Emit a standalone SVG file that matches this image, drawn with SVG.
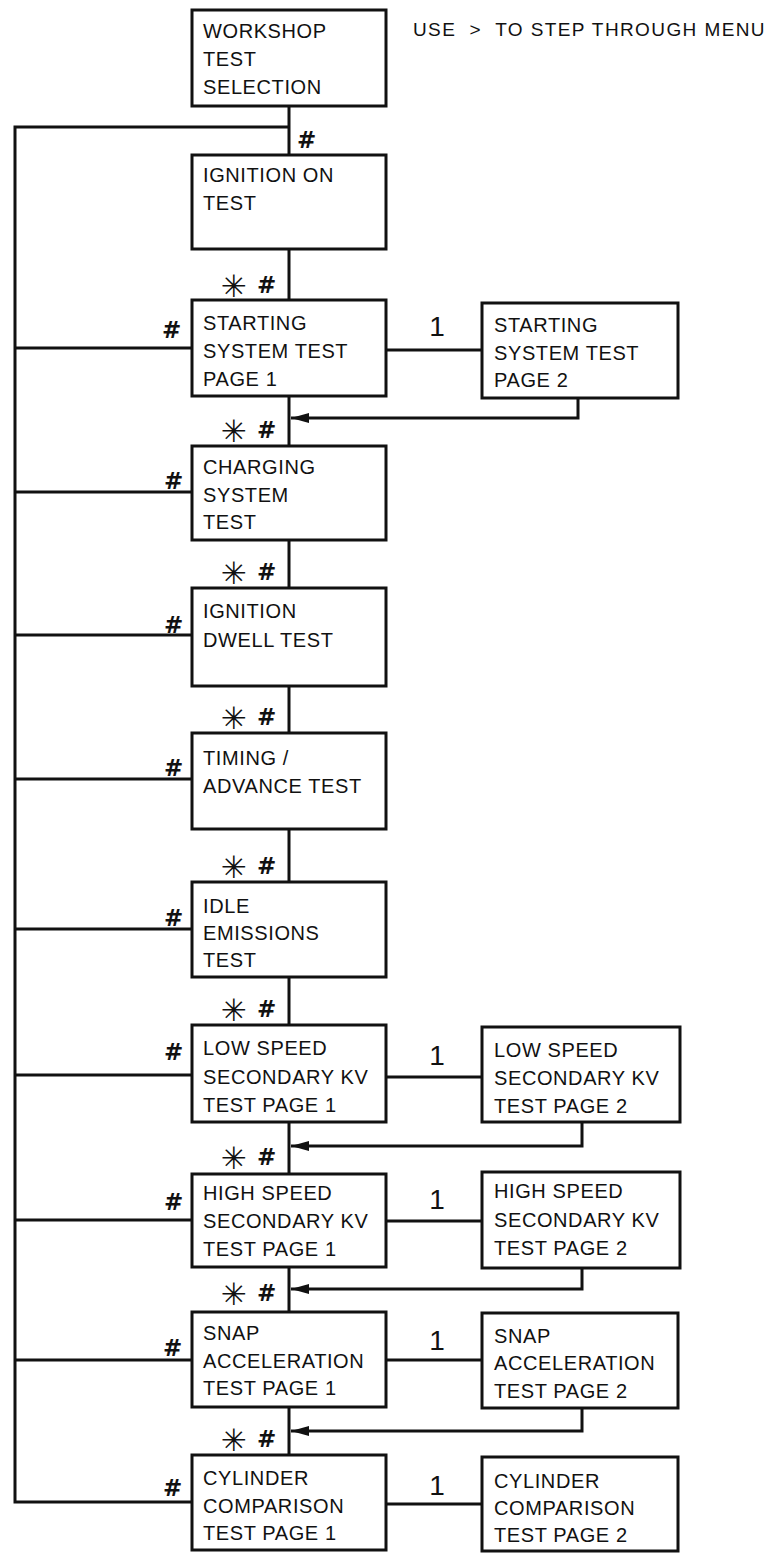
<svg xmlns="http://www.w3.org/2000/svg" width="773" height="1553" viewBox="0 0 773 1553">
<style>
.box{fill:#fff;stroke:#111;stroke-width:3}
.ln{fill:none;stroke:#111;stroke-width:3}
.t{font-family:"Liberation Sans",Arial,sans-serif;font-size:20px;letter-spacing:0.6px;fill:#111}
.h{font-family:"DejaVu Sans",sans-serif;font-weight:bold;font-size:23px;fill:#111}
.a{font-family:"DejaVu Sans",sans-serif;font-size:31px;fill:#111}
.one{font-family:"Liberation Sans",Arial,sans-serif;font-size:28px;fill:#111;text-anchor:middle}
</style>
<defs>
<marker id="arr" markerUnits="userSpaceOnUse" markerWidth="20" markerHeight="12" refX="18" refY="5" orient="auto">
<path d="M0,0 L18,5 L0,10 z" fill="#111"/>
</marker>
</defs>
<rect width="773" height="1553" fill="#fff"/>
<text class="t" x="413" y="36" xml:space="preserve" style="font-size:19px;letter-spacing:1.4px">USE  &gt;  TO STEP THROUGH MENU</text>
<g id="connectors">
<path class="ln" d="M289,106 V155 M289,249 V300 M289,396 V446 M289,540 V588 M289,686 V733 M289,829 V882 M289,977 V1025 M289,1122 V1174 M289,1267 V1312 M289,1407 V1455"/>
<path class="ln" d="M289,127 H15 V1502 H192 M15,348 H192 M15,492 H192 M15,635 H192 M15,779 H192 M15,929 H192 M15,1075 H192 M15,1220 H192 M15,1360 H192"/>
<path class="ln" d="M386,350 H482 M386,1077 H482 M386,1221 H482 M386,1360 H482 M386,1504 H482"/>
<path class="ln" d="M578,398 V418 H291" marker-end="url(#arr)"/>
<path class="ln" d="M582,1122 V1146 H291" marker-end="url(#arr)"/>
<path class="ln" d="M582,1268 V1289 H291" marker-end="url(#arr)"/>
<path class="ln" d="M582,1408 V1431 H291" marker-end="url(#arr)"/>
<text class="h" x="297" y="148">#</text>
<g id="labels-left">
<text class="h" x="162" y="338">#</text>
<text class="h" x="164" y="489">#</text>
<text class="h" x="164" y="633">#</text>
<text class="h" x="164" y="776">#</text>
<text class="h" x="164" y="926">#</text>
<text class="h" x="164" y="1060">#</text>
<text class="h" x="164" y="1210">#</text>
<text class="h" x="163" y="1356">#</text>
<text class="h" x="163" y="1496">#</text>
</g>
<g id="labels-step">
<text class="a" x="221" y="297">✳&#xFE0E;</text><text class="h" x="257" y="293">#</text>
<text class="a" x="221" y="442">✳&#xFE0E;</text><text class="h" x="257" y="438">#</text>
<text class="a" x="221" y="584">✳&#xFE0E;</text><text class="h" x="257" y="580">#</text>
<text class="a" x="221" y="729">✳&#xFE0E;</text><text class="h" x="257" y="725">#</text>
<text class="a" x="221" y="878">✳&#xFE0E;</text><text class="h" x="257" y="874">#</text>
<text class="a" x="221" y="1021">✳&#xFE0E;</text><text class="h" x="257" y="1017">#</text>
<text class="a" x="221" y="1169">✳&#xFE0E;</text><text class="h" x="257" y="1165">#</text>
<text class="a" x="221" y="1305">✳&#xFE0E;</text><text class="h" x="257" y="1301">#</text>
<text class="a" x="221" y="1451">✳&#xFE0E;</text><text class="h" x="257" y="1447">#</text>
</g>
<g id="labels-one">
<text class="one" x="437" y="336">1</text>
<text class="one" x="437" y="1065">1</text>
<text class="one" x="437" y="1209">1</text>
<text class="one" x="437" y="1350">1</text>
<text class="one" x="437" y="1495">1</text>
</g>
</g>
<g id="workshop"><rect class="box" x="192" y="10" width="194" height="96"/><text class="t" x="203" y="38">WORKSHOP</text><text class="t" x="203" y="66">TEST</text><text class="t" x="203" y="94">SELECTION</text></g>
<g id="ignition-on"><rect class="box" x="192" y="155" width="194" height="94"/><text class="t" x="203" y="182">IGNITION ON</text><text class="t" x="203" y="210">TEST</text></g>
<g id="starting-1"><rect class="box" x="192" y="300" width="194" height="96"/><text class="t" x="203" y="330">STARTING</text><text class="t" x="203" y="358">SYSTEM TEST</text><text class="t" x="203" y="386">PAGE 1</text></g>
<g id="starting-2"><rect class="box" x="482" y="303" width="196" height="95"/><text class="t" x="494" y="332">STARTING</text><text class="t" x="494" y="360">SYSTEM TEST</text><text class="t" x="494" y="387">PAGE 2</text></g>
<g id="charging"><rect class="box" x="192" y="446" width="194" height="94"/><text class="t" x="203" y="474">CHARGING</text><text class="t" x="203" y="502">SYSTEM</text><text class="t" x="203" y="529">TEST</text></g>
<g id="dwell"><rect class="box" x="192" y="588" width="194" height="98"/><text class="t" x="203" y="618">IGNITION</text><text class="t" x="203" y="647">DWELL TEST</text></g>
<g id="timing"><rect class="box" x="192" y="733" width="194" height="96"/><text class="t" x="203" y="765">TIMING /</text><text class="t" x="203" y="793">ADVANCE TEST</text></g>
<g id="idle"><rect class="box" x="192" y="882" width="194" height="95"/><text class="t" x="203" y="913">IDLE</text><text class="t" x="203" y="940">EMISSIONS</text><text class="t" x="203" y="967">TEST</text></g>
<g id="low-1"><rect class="box" x="192" y="1025" width="194" height="97"/><text class="t" x="203" y="1055">LOW SPEED</text><text class="t" x="203" y="1084">SECONDARY KV</text><text class="t" x="203" y="1112">TEST PAGE 1</text></g>
<g id="low-2"><rect class="box" x="482" y="1027" width="198" height="95"/><text class="t" x="494" y="1057">LOW SPEED</text><text class="t" x="494" y="1085">SECONDARY KV</text><text class="t" x="494" y="1113">TEST PAGE 2</text></g>
<g id="high-1"><rect class="box" x="192" y="1174" width="194" height="93"/><text class="t" x="203" y="1200">HIGH SPEED</text><text class="t" x="203" y="1228">SECONDARY KV</text><text class="t" x="203" y="1256">TEST PAGE 1</text></g>
<g id="high-2"><rect class="box" x="482" y="1172" width="198" height="96"/><text class="t" x="494" y="1198">HIGH SPEED</text><text class="t" x="494" y="1227">SECONDARY KV</text><text class="t" x="494" y="1255">TEST PAGE 2</text></g>
<g id="snap-1"><rect class="box" x="192" y="1312" width="194" height="95"/><text class="t" x="203" y="1340">SNAP</text><text class="t" x="203" y="1368">ACCELERATION</text><text class="t" x="203" y="1395">TEST PAGE 1</text></g>
<g id="snap-2"><rect class="box" x="482" y="1313" width="196" height="95"/><text class="t" x="494" y="1343">SNAP</text><text class="t" x="494" y="1370">ACCELERATION</text><text class="t" x="494" y="1398">TEST PAGE 2</text></g>
<g id="cyl-1"><rect class="box" x="192" y="1455" width="194" height="95"/><text class="t" x="203" y="1485">CYLINDER</text><text class="t" x="203" y="1513">COMPARISON</text><text class="t" x="203" y="1540">TEST PAGE 1</text></g>
<g id="cyl-2"><rect class="box" x="482" y="1457" width="196" height="94"/><text class="t" x="494" y="1488">CYLINDER</text><text class="t" x="494" y="1515">COMPARISON</text><text class="t" x="494" y="1542">TEST PAGE 2</text></g>
</svg>
